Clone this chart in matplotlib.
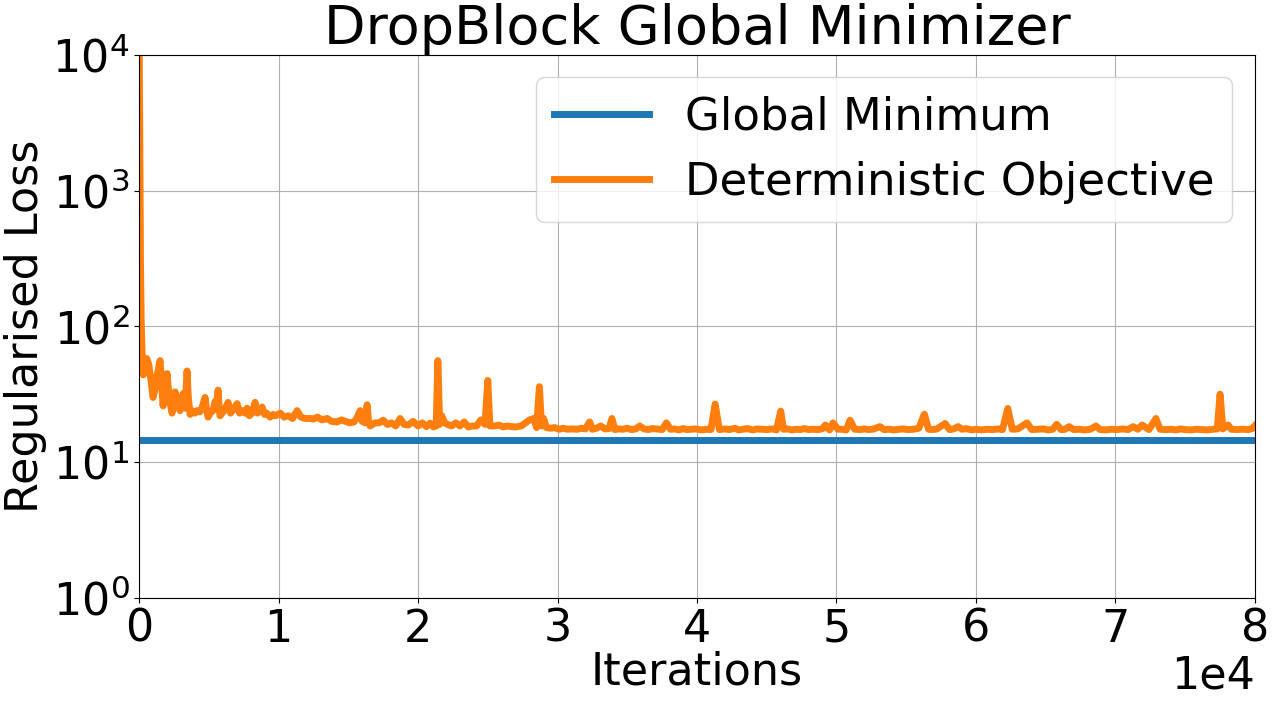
import matplotlib
matplotlib.use("Agg")
import matplotlib.pyplot as plt
from matplotlib.ticker import MultipleLocator, NullLocator, LogLocator

# values
global_min = 14.5

iters = [
    0, 50, 100, 150, 220, 300, 400, 550, 700, 850,
    1004, 1150, 1300, 1506, 1600, 1721, 1850, 2008, 2150, 2366,
    2480, 2581, 2750, 2940, 3050, 3155, 3300, 3440, 3530, 3657,
    3800, 4000, 4159, 4350, 4500, 4732, 4850, 4947, 5100, 5300,
    5450, 5550, 5664, 5750, 5808, 5950, 6100, 6381, 6550, 6700,
    7027, 7200, 7400, 7600, 7744, 7900, 8100, 8317, 8500, 8650,
    8819, 9000, 9150, 9393, 9600, 9800, 10110, 10400, 10700, 11000,
    11329, 11600, 11900, 12261, 12500, 12800, 13100, 13480, 13800, 14197,
    14500, 14800, 15100, 15400, 15600, 15846, 16000, 16200, 16348, 16450,
    16563, 16900, 17200, 17495, 17800, 18100, 18400, 18714, 19000, 19300,
    19646, 20000, 20300, 20600, 20864, 21100, 21300, 21420, 21550, 21700,
    21900, 22100, 22400, 22700, 23000, 23300, 23600, 23900, 24200, 24500,
    24800, 25000, 25150, 25500, 25800, 26100, 26400, 26700, 27000, 27400,
    27700, 28000, 28300, 28500, 28700, 28850, 29000, 29200, 29500, 29800,
    30100, 30400, 30700, 31000, 31400, 31700, 32000, 32300, 32500, 32800,
    33100, 33400, 33700, 33900, 34100, 34400, 34700, 35000, 35300, 35600,
    35900, 36200, 36500, 36800, 37100, 37500, 37800, 38100, 38400, 38700,
    39000, 39300, 39600, 39900, 40300, 40700, 41000, 41300, 41600, 42000,
    42300, 42700, 43000, 43300, 43600, 44000, 44300, 44700, 45000, 45400,
    45700, 46000, 46200, 46500, 46800, 47100, 47400, 47700, 48000, 48300,
    48700, 49000, 49200, 49500, 49750, 50100, 50400, 50700, 50970, 51300,
    51700, 52000, 52300, 52600, 53120, 53400, 53800, 54100, 54500, 54800,
    55100, 55500, 55900, 56300, 56600, 56900, 57200, 57785, 58100, 58400,
    58720, 59000, 59300, 59700, 60000, 60400, 60800, 61200, 61600, 61900,
    62280, 62600, 63000, 63660, 64000, 64400, 64800, 65200, 65500, 65790,
    66100, 66400, 66680, 67000, 67400, 67800, 68200, 68600, 68900, 69300,
    69700, 70100, 70500, 70900, 71270, 71600, 71915, 72400, 72900, 73200,
    73600, 74000, 74300, 74700, 75000, 75400, 75800, 76200, 76600, 77000,
    77300, 77500, 77700, 78080, 78300, 78700, 79100, 79500, 79800, 80000,
]

loss = [
    15000, 2500, 300, 110, 62, 44, 48, 58, 52, 40,
    30, 35, 44, 56, 40, 26, 34, 45, 30, 23,
    28, 33, 26, 24, 29, 32, 25, 47, 30, 22.5,
    24, 23, 24, 23.5, 25, 30, 24, 21.5, 23, 24,
    28, 25, 34, 24, 22, 23, 24, 27.6, 23, 24,
    27, 23, 24, 23, 25, 22, 23, 27.6, 23, 24,
    25.5, 22.5, 23, 21.5, 22.5, 22, 23, 21.5, 22, 21,
    24, 21.5, 21, 21, 20.8, 21.5, 20.5, 21, 20, 19.8,
    20.5, 20, 19.5, 19.8, 21, 24, 20, 19.5, 26.5, 20,
    18.5, 19.5, 19.5, 20.4, 19, 19.5, 18.5, 21, 19, 18.8,
    20, 18.5, 19.5, 18.3, 19.4, 18.2, 18.5, 56, 19, 22,
    19.5, 19, 18.5, 19.5, 18.5, 19.8, 18.2, 18.5, 18.5, 20.5,
    19, 40, 18.5, 18.5, 18.8, 18.2, 18.5, 18.3, 18.2, 18.5,
    19.5, 20.5, 21, 18, 36, 18.5, 21, 18, 17.8, 18,
    17.5, 17.8, 17.5, 17.6, 17.5, 17.8, 17.6, 19.8, 17.5, 17.8,
    18.5, 17.6, 17.7, 21, 17.4, 17.6, 17.5, 17.8, 17.4, 17.6,
    18.5, 17.6, 17.4, 17.7, 17.6, 17.4, 19.5, 17.5, 17.6, 17.3,
    17.7, 17.4, 17.5, 17.6, 17.3, 17.5, 17.4, 26.8, 17.4, 17.6,
    17.4, 17.8, 17.3, 17.5, 17.7, 17.3, 17.6, 17.5, 17.4, 17.6,
    17.3, 23.8, 17.5, 17.6, 17.3, 17.5, 17.4, 17.7, 17.4, 17.5,
    17.4, 17.7, 18.8, 17.3, 19.5, 17.5, 17.5, 17.3, 20.4, 17.5,
    17.4, 17.6, 17.4, 17.5, 18.3, 17.4, 17.5, 17.3, 17.5, 17.6,
    17.4, 17.5, 17.8, 22.6, 17.5, 17.4, 17.6, 19.3, 17.4, 17.6,
    18.3, 17.5, 17.7, 17.3, 17.5, 17.3, 17.5, 17.4, 17.6, 17.4,
    24.9, 17.5, 17.6, 19.5, 17.4, 17.5, 17.6, 17.3, 17.5, 19.0,
    17.4, 17.5, 18.3, 17.4, 17.5, 17.3, 17.5, 18.5, 17.4, 17.3,
    17.5, 17.4, 17.6, 17.4, 18.3, 17.5, 18.8, 17.4, 21, 17.5,
    17.4, 17.5, 17.3, 17.6, 17.4, 17.3, 17.5, 17.4, 17.3, 17.5,
    17.6, 31.7, 17.6, 18.8, 17.5, 17.4, 17.5, 17.4, 17.7, 18.6,
]

fig = plt.figure(figsize=(12.76, 7.02), dpi=100)
ax = fig.add_axes([0.109, 0.148, 0.8745, 0.774])

ax.axhline(global_min, color="#1f77b4", lw=5, label="Global Minimum")
ax.plot(iters, loss, color="#ff7f0e", lw=5, label="Deterministic Objective")

ax.set_yscale("log")
ax.set_ylim(1, 1e4)
ax.yaxis.set_major_locator(LogLocator(base=10, numticks=10))
ax.yaxis.set_minor_locator(NullLocator())
ax.set_xlim(0, 80000)
ax.xaxis.set_major_locator(MultipleLocator(10000))
ax.ticklabel_format(axis="x", style="sci", scilimits=(0, 0))

ax.tick_params(labelsize=32)
ax.xaxis.get_offset_text().set_fontsize(32)
ax.grid(True)
ax.set_xlabel("Iterations", fontsize=32, labelpad=0)
ax.set_ylabel("Regularised Loss", fontsize=32)
ax.set_title("DropBlock Global Minimizer", fontsize=39)
ax.legend(fontsize=32.4, loc="upper right", handlelength=2.1)

fig.savefig("out.png", dpi=100)
